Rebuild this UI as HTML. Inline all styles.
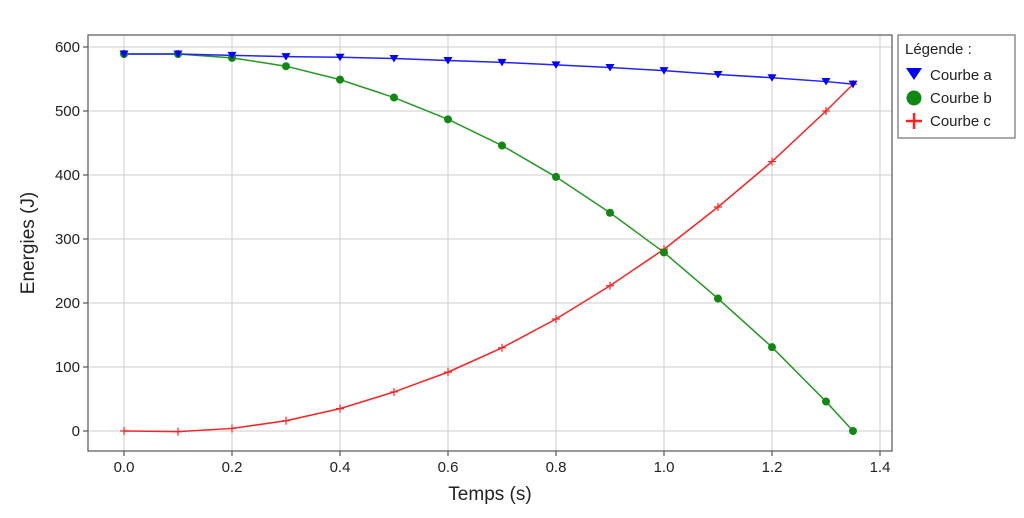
<!DOCTYPE html>
<html><head><meta charset="utf-8"><style>
body{margin:0;background:#fff;width:1024px;height:513px;overflow:hidden}
text{font-family:"Liberation Sans",sans-serif;fill:#222}
</style></head><body>
<svg id="s" width="1024" height="513" xmlns="http://www.w3.org/2000/svg"></svg>
<script>
const s=document.getElementById('s');
const X=t=>124+t*540, Y=v=>431-v*0.64;
let h='';
for(let i=0;i<=7;i++){const x=X(i*0.2);h+=`<line x1="${x}" y1="35" x2="${x}" y2="451" stroke="#ccc" stroke-width="1"/>`;
h+=`<line x1="${x}" y1="451" x2="${x}" y2="456" stroke="#333"/><text x="${x}" y="472" font-size="15" text-anchor="middle">${(i*0.2).toFixed(1)}</text>`;}
for(let i=0;i<=6;i++){const y=Y(i*100);h+=`<line x1="88" y1="${y}" x2="892" y2="${y}" stroke="#ccc"/>`;
h+=`<line x1="83" y1="${y}" x2="88" y2="${y}" stroke="#333"/><text x="80" y="${y+5}" font-size="15" text-anchor="end">${i*100}</text>`;}
h+=`<rect x="88" y="35" width="804" height="416" fill="none" stroke="#555" stroke-width="1.2"/>`;
const T=[0,.1,.2,.3,.4,.5,.6,.7,.8,.9,1,1.1,1.2,1.3,1.35];
const A=[589,589,587,585,584,582,579,576,572,568,563,557,552,546,542];
const B=[589,589,583,570,549,521,487,446,397,341,279,207,131,46,0];
const C=[0,-1,4,16,35,61,92,130,175,227,284,350,421,500,542];
function line(D,c){return `<polyline fill="none" stroke="${c}" stroke-width="1.5" points="${T.map((t,i)=>X(t)+','+Y(D[i])).join(' ')}"/>`;}
h+=line(C,'#f22')+line(B,'#229922')+line(A,'#22f');
T.forEach((t,i)=>{const x=X(t);
let y=Y(C[i]);h+=`<path d="M${x-4} ${y}H${x+4}M${x} ${y-4}V${y+4}" stroke="#f22" stroke-width="1.2"/>`;
y=Y(B[i]);h+=`<circle cx="${x}" cy="${y}" r="4" fill="#118811"/>`;
y=Y(A[i]);h+=`<path d="M${x-4.5} ${y-3.5}H${x+4.5}L${x} ${y+4}Z" fill="#00f"/>`;});
h+=`<text x="490" y="500" font-size="19" text-anchor="middle">Temps (s)</text>`;
h+=`<text transform="translate(34,243) rotate(-90)" font-size="19" text-anchor="middle">Energies (J)</text>`;
h+=`<rect x="898" y="35" width="117" height="103" fill="#fff" stroke="#555"/>`;
h+=`<text x="905" y="54" font-size="15" fill="#000">Légende :</text>`;
h+=`<path d="M906 68H922L914 80Z" fill="#00f"/><text x="930" y="80" font-size="15">Courbe a</text>`;
h+=`<circle cx="914" cy="98" r="7.5" fill="#118811"/><text x="930" y="103" font-size="15">Courbe b</text>`;
h+=`<path d="M906 121H922M914 113V129" stroke="#f22" stroke-width="2.5"/><text x="930" y="126" font-size="15">Courbe c</text>`;
s.innerHTML=h;
</script>
</body></html>
